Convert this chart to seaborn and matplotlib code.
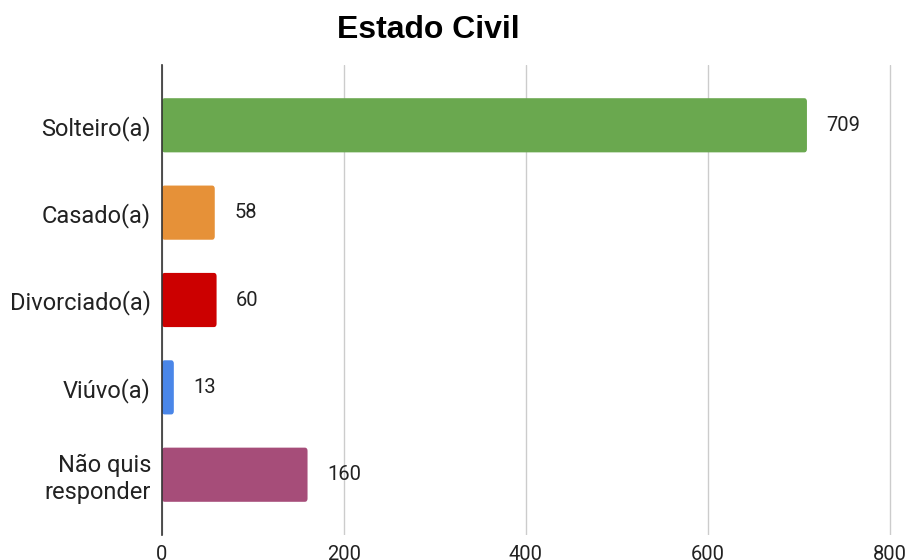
import matplotlib
matplotlib.use("Agg")
import matplotlib.pyplot as plt
import seaborn as sns
import pandas as pd
from matplotlib.patches import FancyBboxPatch

categories = ["Solteiro(a)", "Casado(a)", "Divorciado(a)", "Viúvo(a)", "Não quis\nresponder"]
counts = [709, 58, 60, 13, 160]
colors = ["#6aa84f", "#e69138", "#cc0000", "#4a86e8", "#a64d79"]
xticks = [0, 200, 400, 600, 800]

df = pd.DataFrame({"estado": categories, "n": counts})

sns.set_theme(style="white")
plt.rcParams["font.family"] = ["Roboto", "DejaVu Sans"]

fig = plt.figure(figsize=(9.07, 5.6), dpi=100)
# axes spans x = 0..808 so the 800 gridline sits just inside the right edge
ax = fig.add_axes([162 / 907, 1 - 535 / 560, (897 - 162) / 907, (535 - 65) / 560])

sns.barplot(data=df, x="n", y="estado", hue="estado", palette=colors,
            orient="h", width=0.62, legend=False, ax=ax, saturation=1)

# swap the plain rectangles for slightly rounded ones
for p in list(ax.patches):
    x, y, w, h = p.get_x(), p.get_y(), p.get_width(), p.get_height()
    fc = p.get_facecolor()
    p.remove()
    ax.add_patch(FancyBboxPatch((x, y), w, h,
                                boxstyle="round,pad=0,rounding_size=3",
                                mutation_aspect=0.0125,
                                facecolor=fc, edgecolor="none", zorder=3))

for i, v in enumerate(counts):
    ax.annotate(str(v), xy=(v, i), xytext=(14, 0), textcoords="offset points",
                va="center", ha="left", fontsize=14.5, color="#222222")

ax.set_xlim(0, 808)
ax.set_ylim(4.69, -0.69)
ax.set_xticks(xticks)
ax.set_xticklabels([str(t) for t in xticks])
ax.grid(axis="x", color="#cccccc", linewidth=1)
ax.set_axisbelow(True)
for s in ["top", "right", "bottom"]:
    ax.spines[s].set_visible(False)
ax.spines["left"].set_color("#333333")
ax.spines["left"].set_linewidth(1.2)
ax.spines["left"].set_zorder(4)
ax.tick_params(axis="both", length=0, colors="#222222")
ax.tick_params(axis="y", pad=8, labelsize=17)
ax.tick_params(axis="x", pad=7, labelsize=14.5)
ax.set_xlabel("")
ax.set_ylabel("")

fig.text(428 / 907, 1 - 30 / 560, "Estado Civil",
         ha="center", va="center", fontsize=23, fontweight="bold",
         family=["Liberation Sans", "DejaVu Sans"], color="#000000")

fig.savefig("out.png", dpi=100)
